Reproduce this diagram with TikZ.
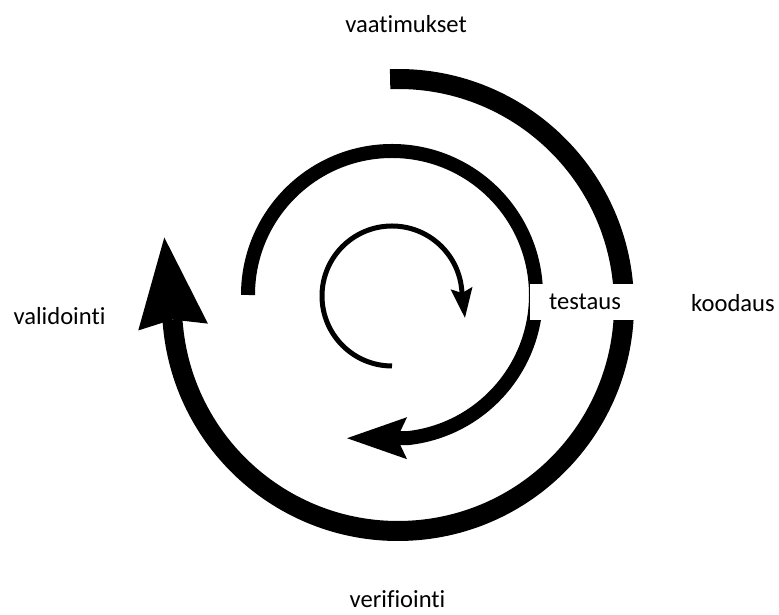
\documentclass[tikz,border=0pt]{standalone}
\usepackage{fontspec}
\setmainfont{Carlito}[Ligatures=NoCommon]
\usetikzlibrary{arrows.meta}
\tikzset{
  lbl/.style = {font=\fontsize{14pt}{16pt}\selectfont, inner sep=0pt, anchor=base},
  gapbox/.style = {fill=white, font=\fontsize{14pt}{16pt}\selectfont, inner sep=0pt,
                   minimum width=2.2cm, minimum height=0.72cm},
  arO/.style = {line width=0.4cm,
                -{Stealth[length=1.8cm, width=1.4cm, inset=0.15cm, line width=0pt]}},
  arM/.style = {line width=0.28cm,
                -{Stealth[length=1.2cm, width=0.84cm, inset=0.2cm, line width=0pt]}},
  arI/.style = {line width=0.1cm,
                -{Stealth[length=0.6cm, width=0.44cm, inset=0.1cm, line width=0pt]}},
}
\begin{document}
\begin{tikzpicture}
  \useasboundingbox (0,0) rectangle (15.58,12.3);
  \coordinate (cO) at (7.96,6.2);
  \coordinate (cM) at (7.84,6.4);
  \coordinate (cI) at (7.84,6.38);
  \draw[arO] (cO) ++(92:4.52) arc[start angle=92, end angle=-174.4, radius=4.52] -- ++(95.6:1.8);
  \draw[arM] (cM) ++(180:2.88) arc[start angle=180, end angle=-84, radius=2.88] -- ++(180:1.2);
  \draw[arI] (cI) ++(270:1.4) arc[start angle=270, end angle=6.5, radius=1.4] -- ++(-83.5:0.6);
  \node[gapbox] (testaus) at (11.7,6.26) {testaus};
  \node[lbl] (vaatimukset) at (8.12,11.64) {vaatimukset};
  \node[lbl] (validointi)  at (1.19,5.8)   {validointi};
  \node[lbl] (koodaus)     at (14.66,6.06) {koodaus};
  \node[lbl] (verifiointi) at (7.95,0.14)  {verifiointi};
\end{tikzpicture}
\end{document}
